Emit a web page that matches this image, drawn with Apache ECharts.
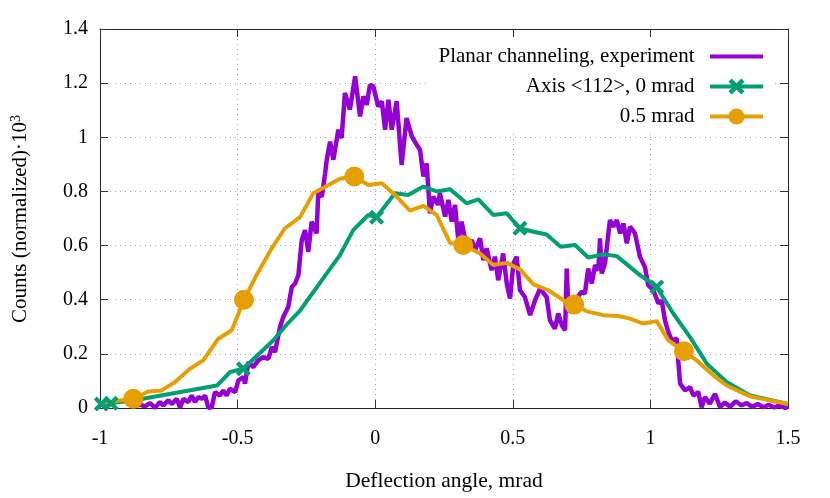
<!DOCTYPE html>
<html>
<head>
<meta charset="utf-8">
<script src="https://cdn.jsdelivr.net/npm/echarts@6/dist/echarts.min.js"></script>
<style>html,body{margin:0;padding:0;background:#fff}#c{width:830px;height:498px}</style>
</head>
<body>
<div id="c"></div>
<script>
// ---------- data ----------
const seriesNames = ['Planar channeling, experiment', 'Axis <112>, 0 mrad', '0.5 mrad'];
const xTicks = [-1, -0.5, 0, 0.5, 1, 1.5];
const yTicks = [0, 0.2, 0.4, 0.6, 0.8, 1, 1.2, 1.4];

const expX = [-0.873,-0.855,-0.837,-0.818,-0.800,-0.782,-0.770,-0.752,-0.739,-0.721,
 -0.709,-0.697,-0.679,-0.667,-0.655,-0.643,-0.630,-0.618,-0.606,-0.594,
 -0.582,-0.564,-0.552,-0.540,-0.528,-0.509,-0.497,-0.479,-0.473,-0.461,
 -0.443,-0.425,-0.407,-0.388,-0.376,-0.364,-0.346,-0.334,-0.322,-0.316,
 -0.303,-0.291,-0.279,-0.267,-0.255,-0.243,-0.231,-0.213,-0.207,-0.194,
 -0.182,-0.176,-0.164,-0.152,-0.134,-0.122,-0.110,-0.092,-0.073,-0.055,
 -0.043,-0.031,-0.019,-0.007,0.011,0.024,0.036,0.048,0.060,0.078,
 0.096,0.114,0.133,0.151,0.163,0.175,0.187,0.199,0.211,0.229,
 0.235,0.254,0.266,0.278,0.290,0.302,0.314,0.332,0.351,0.363,
 0.381,0.393,0.405,0.423,0.435,0.447,0.465,0.478,0.490,0.502,
 0.514,0.526,0.544,0.563,0.581,0.599,0.623,0.635,0.653,0.665,
 0.678,0.690,0.696,0.702,0.714,0.726,0.750,0.762,0.774,0.787,
 0.799,0.811,0.817,0.823,0.835,0.853,0.865,0.878,0.890,0.902,
 0.914,0.926,0.944,0.962,0.980,0.992,1.011,1.029,1.041,1.053,
 1.065,1.077,1.096,1.101,1.108,1.126,1.144,1.156,1.174,1.186,
 1.198,1.216,1.235,1.253,1.27,1.29,1.31,1.33,1.35,1.37,
 1.39,1.41,1.43,1.45,1.47,1.49,1.5];
const expY = [0.006,0.013,0.006,0.018,0.001,0.022,0.009,0.028,0.015,0.034,
 0.001,0.034,0.022,0.046,0.022,0.040,0.034,0.046,0,0.003,
 0.059,0.046,0.065,0.046,0.071,0.059,0.102,0.114,0.090,0.170,
 0.151,0.176,0.188,0.182,0.225,0.207,0.299,0.336,0.361,0.373,
 0.447,0.460,0.491,0.620,0.657,0.577,0.688,0.645,0.793,0.781,
 0.867,0.917,0.984,0.917,1.028,0.997,1.164,1.102,1.225,1.077,
 1.151,1.120,1.194,1.188,1.114,1.133,1.028,1.139,1.028,1.133,
 0.898,1.071,1.003,0.972,0.954,0.855,0.904,0.719,0.781,0.750,
 0.793,0.707,0.769,0.688,0.750,0.620,0.688,0.596,0.620,0.583,
 0.627,0.546,0.590,0.509,0.559,0.472,0.571,0.460,0.404,0.534,
 0.559,0.435,0.410,0.343,0.398,0.441,0.410,0.324,0.293,0.349,
 0.306,0.287,0.515,0.361,0.355,0.398,0.429,0.423,0.515,0.460,
 0.528,0.509,0.627,0.497,0.534,0.694,0.670,0.694,0.645,0.682,
 0.608,0.670,0.645,0.559,0.521,0.454,0.435,0.386,0.398,0.324,
 0.281,0.250,0.256,0.176,0.090,0.065,0.077,0.046,0.059,0.003,
 0.040,0.016,0.052,0.003,0.020,0.005,0.025,0.010,0.018,0.004,
 0.015,0.003,0.012,0.002,0.010,0.000,0.005];

const axisX = [-1.0,-0.995,-0.96,-0.88,-0.575,-0.527,-0.479,-0.37,-0.32,-0.273,-0.176,-0.128,-0.08,-0.025,0.005,0.072,0.12,0.175,0.224,0.272,0.332,0.375,0.429,0.478,0.526,0.575,0.623,0.674,0.726,0.774,0.829,0.878,0.962,1.023,1.083,1.144,1.205,1.277,1.362,1.5];
const axisY = [0.015,0.015,0.018,0.028,0.083,0.133,0.145,0.25,0.31,0.36,0.497,0.565,0.657,0.713,0.705,0.793,0.787,0.818,0.80,0.808,0.756,0.771,0.713,0.719,0.664,0.651,0.641,0.596,0.602,0.556,0.568,0.561,0.491,0.447,0.349,0.262,0.164,0.096,0.046,0.015];
const axisMarkX = [-0.995,-0.96,-0.479,0.005,0.526,1.023];

const halfX = [-1.0,-0.879,-0.824,-0.776,-0.727,-0.673,-0.625,-0.57,-0.521,-0.477,-0.431,-0.376,-0.328,-0.273,-0.225,-0.128,-0.076,-0.025,0.024,0.078,0.126,0.175,0.223,0.272,0.32,0.381,0.429,0.478,0.526,0.575,0.629,0.684,0.723,0.769,0.829,0.883,0.926,0.974,1.023,1.065,1.122,1.168,1.229,1.277,1.362,1.5];
const halfY = [0.018,0.034,0.061,0.065,0.096,0.145,0.176,0.256,0.287,0.40,0.491,0.59,0.664,0.705,0.793,0.847,0.855,0.824,0.83,0.781,0.729,0.747,0.713,0.61,0.602,0.571,0.528,0.536,0.512,0.457,0.435,0.398,0.382,0.357,0.343,0.340,0.330,0.312,0.321,0.25,0.21,0.176,0.12,0.083,0.043,0.015];
const halfMarkX = [-0.879,-0.477,-0.076,0.32,0.723,1.122];

// ---------- build ----------
function build(xs, ys, marks) {
  return xs.map((x, i) => (marks && marks.indexOf(x) >= 0) ? [x, ys[i]] : { value: [x, ys[i]], symbol: 'none' });
}
const FONT = 'Liberation Serif';
const C_EXP = '#9400d3', C_AX = '#009e73', C_HALF = '#e69f00';
const crossPath = 'path://M0,2 L2,0 L5,3 L8,0 L10,2 L7,5 L10,8 L8,10 L5,7 L2,10 L0,8 L3,5 Z';
const gridLine = { show: true, lineStyle: { color: '#a8a8a8', width: 1, type: [1, 4] } };
const tickStyle = { show: true, inside: true, length: 8, lineStyle: { color: '#333', width: 1 } };

const chart = echarts.init(document.getElementById('c'), null, { renderer: 'canvas' });
chart.setOption({
  animation: false,
  backgroundColor: '#fff',
  grid: { left: 100, right: 42, top: 29, bottom: 90, containLabel: false },
  xAxis: [
    { type: 'value', min: xTicks[0], max: xTicks[xTicks.length - 1], interval: 0.5,
      axisLine: { show: true, onZero: false, lineStyle: { color: '#222', width: 1 } },
      axisTick: tickStyle, splitLine: gridLine,
      axisLabel: { fontFamily: FONT, fontSize: 20, color: '#000', margin: 21 } },
    { type: 'value', position: 'top', min: xTicks[0], max: xTicks[xTicks.length - 1], interval: 0.5,
      axisLine: { show: true, onZero: false, lineStyle: { color: '#222', width: 1 } },
      axisTick: tickStyle, splitLine: { show: false }, axisLabel: { show: false } }
  ],
  yAxis: [
    { type: 'value', min: yTicks[0], max: yTicks[yTicks.length - 1], interval: 0.2,
      axisLine: { show: true, onZero: false, lineStyle: { color: '#222', width: 1 } },
      axisTick: tickStyle, splitLine: gridLine,
      axisLabel: { fontFamily: FONT, fontSize: 20, color: '#000', margin: 12 } },
    { type: 'value', position: 'right', min: yTicks[0], max: yTicks[yTicks.length - 1], interval: 0.2,
      axisLine: { show: true, onZero: false, lineStyle: { color: '#222', width: 1 } },
      axisTick: tickStyle, splitLine: { show: false }, axisLabel: { show: false } }
  ],
  legend: {
    orient: 'vertical', align: 'right', right: 55, top: 39,
    padding: [7, 10, 7, 10], backgroundColor: '#fff',
    itemWidth: 53, itemHeight: 20, itemGap: 9,
    selectedMode: false,
    lineStyle: { width: 4 },
    formatter: n => n + '\u00a0\u00a0',
    textStyle: { fontFamily: FONT, fontSize: 21, color: '#000' },
    data: [
      { name: seriesNames[0], icon: 'path://M0,0 L53,0 L53,4 L0,4 Z', itemStyle: { color: C_EXP } },
      { name: seriesNames[1] },
      { name: seriesNames[2] }
    ]
  },
  graphic: [
    { type: 'text', x: 444, y: 481, style: { text: 'Deflection angle, mrad', font: '21.5px "Liberation Serif"', fill: '#000', align: 'center', verticalAlign: 'middle' } },
    { type: 'text', x: 20, y: 219, rotation: Math.PI / 2,
      style: { text: '{a|Counts (normalized)·10}{s|3}', fill: '#000', align: 'center', verticalAlign: 'middle',
        rich: { a: { fontFamily: FONT, fontSize: 21, fill: '#000' }, s: { fontFamily: FONT, fontSize: 14, fill: '#000', verticalAlign: 'top', padding: [0, 0, 8, 0] } } } }
  ],
  series: [
    { name: seriesNames[0], type: 'line', symbol: 'none', data: build(expX, expY, null),
      lineStyle: { color: C_EXP, width: 4.5 }, itemStyle: { color: C_EXP }, emphasis: { disabled: true } },
    { name: seriesNames[1], type: 'line', symbol: crossPath, symbolSize: 15, showSymbol: true, showAllSymbol: true,
      data: build(axisX, axisY, axisMarkX),
      lineStyle: { color: C_AX, width: 4 }, itemStyle: { color: C_AX }, emphasis: { disabled: true } },
    { name: seriesNames[2], type: 'line', symbol: 'circle', symbolSize: 20, showSymbol: true, showAllSymbol: true,
      data: build(halfX, halfY, halfMarkX),
      lineStyle: { color: C_HALF, width: 4 }, itemStyle: { color: C_HALF }, emphasis: { disabled: true } }
  ]
});
</script>
</body>
</html>
